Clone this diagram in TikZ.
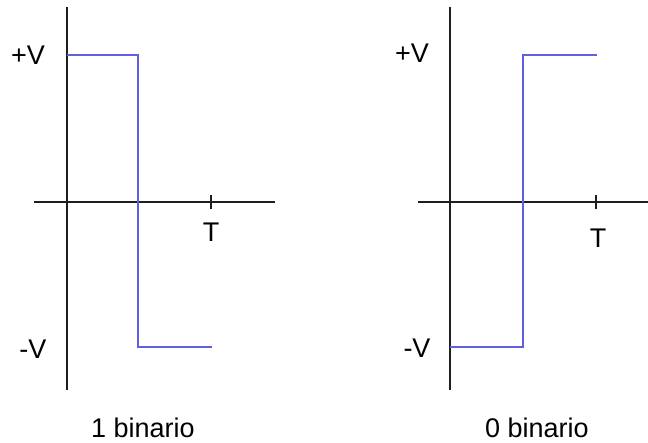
\documentclass[tikz,border=0pt]{standalone}
\usepackage{fontspec}
\setmainfont{Liberation Sans}
\definecolor{sig}{RGB}{95,95,225}
\definecolor{ax}{RGB}{30,30,30}
\begin{document}
\begin{tikzpicture}[x=1pt,y=-1pt,
  axis/.style={draw=ax,line width=1.6pt},
  wave/.style={draw=sig,line width=1.6pt},
  lbl/.style={font=\fontsize{27}{31}\selectfont,inner sep=0pt}]
\useasboundingbox[fill=white] (0,0) rectangle (648,442);
% left panel
\coordinate (la1) at (67,7); \coordinate (la2) at (67,390);
\coordinate (lh1) at (34,202); \coordinate (lh2) at (275,202);
\draw[axis] (la1) -- (la2);
\draw[axis] (lh1) -- (lh2);
\coordinate (lt1) at (211,195); \coordinate (lt2) at (211,209);
\draw[axis] (lt1) -- (lt2);
\coordinate (lw0) at (67,55); \coordinate (lw1) at (138,55);
\coordinate (lw2) at (138,347); \coordinate (lw3) at (212,347);
\draw[wave] (lw0) -- (lw1) -- (lw2) -- (lw3);
\node[lbl] (lpv) at (28,55) {+V};
\node[lbl] (lmv) at (33,349) {-V};
\node[lbl] (lT) at (211,232) {T};
\node[lbl] (lcap) at (143,428) {1 binario};
% right panel
\coordinate (ra1) at (450,7); \coordinate (ra2) at (450,390);
\coordinate (rh1) at (418,202); \coordinate (rh2) at (648,202);
\draw[axis] (ra1) -- (ra2);
\draw[axis] (rh1) -- (rh2);
\coordinate (rt1) at (596,195); \coordinate (rt2) at (596,209);
\draw[axis] (rt1) -- (rt2);
\coordinate (rw0) at (450,347); \coordinate (rw1) at (523,347);
\coordinate (rw2) at (523,55); \coordinate (rw3) at (597,55);
\draw[wave] (rw0) -- (rw1) -- (rw2) -- (rw3);
\node[lbl] (rpv) at (412,53) {+V};
\node[lbl] (rmv) at (417,348) {-V};
\node[lbl] (rT) at (598,238) {T};
\node[lbl] (rcap) at (537,428) {0 binario};
\end{tikzpicture}
\end{document}
